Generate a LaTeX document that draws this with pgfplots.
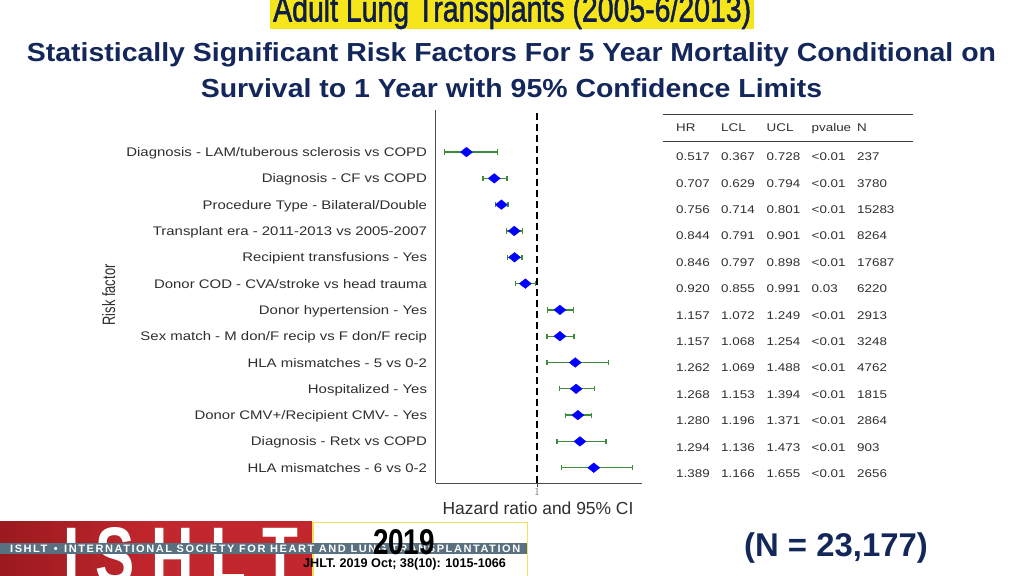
\documentclass[border=0pt]{standalone}
\usepackage{fontspec}
\setmainfont{Liberation Sans}
\newfontfamily\widefont[FakeStretch=1.2]{Liberation Sans}
\newfontfamily\subfont[FakeStretch=1.09]{Liberation Sans}
\newfontfamily\narrowfont[FakeStretch=0.72]{Liberation Sans}
\newfontfamily\bandfont[LetterSpace=14]{Liberation Sans}
\newfontfamily\titlefont[FakeBold=1.6]{Liberation Sans}
\usepackage{pgfplots}
\pgfplotsset{compat=1.18}
\usepackage{pgfplotstable}
\definecolor{navy}{HTML}{13275B}
\definecolor{ttlnavy}{HTML}{0E1E48}
\definecolor{hlyellow}{HTML}{F7E51C}
\definecolor{ciGreen}{HTML}{3C8C3C}
\definecolor{txtgray}{HTML}{2E2E2E}
\definecolor{logored}{HTML}{C1272D}
\definecolor{logodark}{HTML}{9A1A1F}
\definecolor{bandblue}{HTML}{58707F}
\definecolor{boxyellow}{HTML}{F2E25A}

\pgfplotstableread{
y hr lo hi
13 0.517 0.367 0.728
12 0.707 0.629 0.794
11 0.756 0.714 0.801
10 0.844 0.791 0.901
9 0.846 0.797 0.898
8 0.920 0.855 0.991
7 1.157 1.072 1.249
6 1.157 1.068 1.254
5 1.262 1.069 1.488
4 1.268 1.153 1.394
3 1.280 1.196 1.371
2 1.294 1.136 1.473
1 1.389 1.166 1.655
}\hrdata

\begin{document}
\begin{tikzpicture}[x=1bp,y=1bp]
\path[use as bounding box] (0,0) rectangle (1024,576);

% title
\begin{scope}
\clip (0,0) rectangle (1024,576);
\fill[hlyellow] (270,547) rectangle (754,580);
\node[anchor=base west, inner sep=0, text=ttlnavy] at (273,554.5)
  {\resizebox{478bp}{26.5bp}{\titlefont Adult Lung Transplants (2005-6/2013)}};
\end{scope}

% subtitle
\node[anchor=base, inner sep=0, text=navy, font=\subfont\bfseries\fontsize{26.2}{30}\selectfont] at (511.5,514)
  {Statistically Significant Risk Factors For 5 Year Mortality Conditional on};
\node[anchor=base, inner sep=0, text=navy, font=\subfont\bfseries\fontsize{26.2}{30}\selectfont] at (511.5,478)
  {Survival to 1 Year with 95\% Confidence Limits};

\begin{axis}[
  at={(435.7bp,93bp)}, anchor=south west, scale only axis,
  width=206.4bp, height=373bp,
  xmin=0.306, xmax=1.72, ymin=0.42, ymax=14.6,
  axis x line*=bottom, axis y line*=left,
  axis line style={-, draw=black!70, line width=0.9bp},
  xtick={1}, xticklabel style={font=\fontsize{10.5}{12}\selectfont, text=black!55, inner sep=1bp},
  xtick style={draw=black!70, line width=0.9bp},
  tick align=outside, major tick length=4bp,
  ytick={1,...,13},
  yticklabels={HLA mismatches - 6 vs 0-2, Diagnosis - Retx vs COPD, Donor CMV+/Recipient CMV- - Yes, Hospitalized - Yes, HLA mismatches - 5 vs 0-2, Sex match - M don/F recip vs F don/F recip, Donor hypertension - Yes, Donor COD - CVA/stroke vs head trauma, Recipient transfusions - Yes, Transplant era - 2011-2013 vs 2005-2007, Procedure Type - Bilateral/Double, Diagnosis - CF vs COPD, Diagnosis - LAM/tuberous sclerosis vs COPD},
  ytick style={draw=none},
  yticklabel style={font=\widefont\fontsize{12.5}{14}\selectfont, text=txtgray, inner sep=0pt, anchor=base east, xshift=-4.5bp, yshift=-4.5bp},
  clip=false,
]
\addplot[black, line width=1.4bp, dash pattern=on 7bp off 4bp] coordinates {(1,0.42) (1,14.6)};
\addplot[only marks, mark=diamond*, mark size=8bp,
  mark options={fill=blue, draw=blue, yscale=0.6},
  error bars/.cd, x dir=both, x explicit,
  error bar style={ciGreen, line width=1.3bp},
  error mark options={ciGreen, mark size=2.6bp, line width=1.3bp, rotate=90}]
  table[x=hr, y=y, x error plus expr=\thisrow{hi}-\thisrow{hr}, x error minus expr=\thisrow{hr}-\thisrow{lo}] {\hrdata};
\end{axis}

% axis titles
\node[anchor=base, inner sep=0, font=\fontsize{17.5}{20}\selectfont, text=txtgray] at (538,61) {Hazard ratio and 95\% CI};
\node[rotate=90, anchor=base, inner sep=0, font=\narrowfont\fontsize{18}{20}\selectfont, text=txtgray] at (115,281) {Risk factor};

% table
\draw[black!75, line width=0.9bp] (663,462) -- (913,462);
\draw[black!75, line width=0.9bp] (663,434.5) -- (913,434.5);
\begin{scope}[every node/.style={anchor=base west, inner sep=0, font=\widefont\fontsize{11.2}{13}\selectfont, text=txtgray}]
\node at (676,444.5) {HR}; \node at (721,444.5) {LCL}; \node at (766.5,444.5) {UCL}; \node at (811.5,444.5) {pvalue}; \node at (857,444.5) {N};
\foreach \i/\a/\b/\c/\p/\n in {
 0/0.517/0.367/0.728/<0.01/237,
 1/0.707/0.629/0.794/<0.01/3780,
 2/0.756/0.714/0.801/<0.01/15283,
 3/0.844/0.791/0.901/<0.01/8264,
 4/0.846/0.797/0.898/<0.01/17687,
 5/0.920/0.855/0.991/0.03/6220,
 6/1.157/1.072/1.249/<0.01/2913,
 7/1.157/1.068/1.254/<0.01/3248,
 8/1.262/1.069/1.488/<0.01/4762,
 9/1.268/1.153/1.394/<0.01/1815,
 10/1.280/1.196/1.371/<0.01/2864,
 11/1.294/1.136/1.473/<0.01/903,
 12/1.389/1.166/1.655/<0.01/2656}{
  \pgfmathsetmacro{\yy}{576-160.8-26.4*\i}
  \node at (676,\yy) {\a};
  \node at (721,\yy) {\b};
  \node at (766.5,\yy) {\c};
  \node at (811.5,\yy) {\p};
  \node at (857,\yy) {\n};
}
\end{scope}

% N
\node[anchor=base, inner sep=0, text=navy, font=\bfseries\fontsize{33}{36}\selectfont] at (836,19.5) {(N = 23,177)};

% logo
\begin{scope}
\clip (0,0) rectangle (1024,576);
\shade[left color=logodark, right color=logored, middle color=logored] (0,0) rectangle (312,54);
\fill[white] (312,0) rectangle (528,54);
\draw[boxyellow, line width=1.5bp] (312.75,-2) -- (312.75,53.25) -- (527.25,53.25) -- (527.25,-2);
\node[anchor=base west, inner sep=0, text=white] at (63,-8)
  {\resizebox{235bp}{56bp}{\bfseries I S H L T}};
\fill[bandblue] (0,22) rectangle (527,32.5);
\node[anchor=base west, inner sep=0, text=white] at (10,23.5)
  {\resizebox{510bp}{7.5bp}{\bandfont\bfseries ISHLT \,•\, INTERNATIONAL SOCIETY FOR HEART AND LUNG TRANSPLANTATION}};
\node[anchor=base, inner sep=0, text=black] at (404,21)
  {\resizebox{62bp}{25bp}{\bfseries 2019}};
\node[anchor=base west, inner sep=0, text=black, font=\bfseries\fontsize{12.7}{14}\selectfont] at (303,8)
  {JHLT. 2019 Oct; 38(10): 1015-1066};
\end{scope}
\end{tikzpicture}
\end{document}
